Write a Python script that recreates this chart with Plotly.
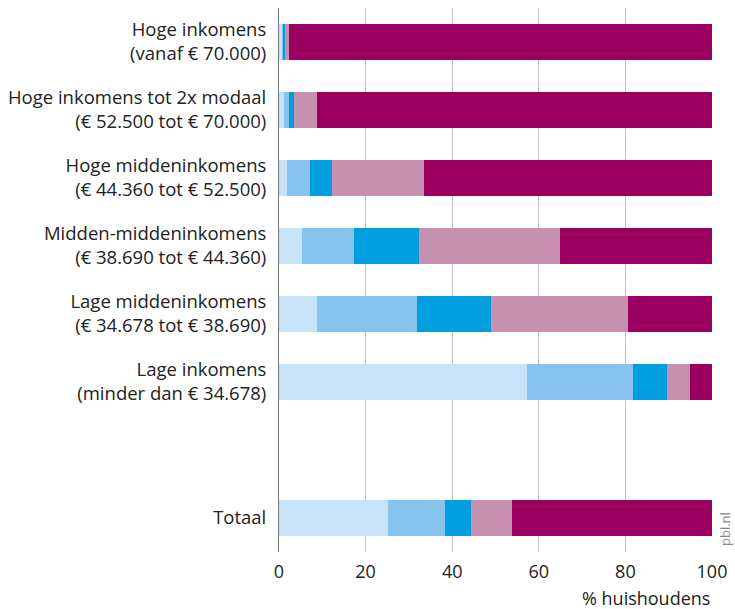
import plotly.graph_objects as go

categories = [
    "Hoge inkomens<br>(vanaf € 70.000)",
    "Hoge inkomens tot 2x modaal<br>(€ 52.500 tot € 70.000)",
    "Hoge middeninkomens<br>(€ 44.360 tot € 52.500)",
    "Midden-middeninkomens<br>(€ 38.690 tot € 44.360)",
    "Lage middeninkomens<br>(€ 34.678 tot € 38.690)",
    "Lage inkomens<br>(minder dan € 34.678)",
    " ",
    "Totaal",
]

series_names = ["Categorie 1", "Categorie 2", "Categorie 3", "Categorie 4", "Categorie 5"]

s1 = [0.9, 1.1, 1.8, 5.2, 8.7, 57.2, None, 25.2]
s2 = [0.25, 1.1, 5.3, 12.2, 23.2, 24.6, None, 13.1]
s3 = [0.15, 1.2, 5.1, 14.9, 17.0, 7.8, None, 6.0]
s4 = [0.9, 5.3, 21.2, 32.7, 31.7, 5.3, None, 9.4]
s5 = [97.8, 91.3, 66.6, 35.0, 19.4, 5.1, None, 46.3]

x_ticks = [0, 20, 40, 60, 80, 100]

colors = ["#c7e3f7", "#86c3ef", "#009ddf", "#c690ae", "#9b0060"]

fig = go.Figure()
for name, vals, col in zip(series_names, [s1, s2, s3, s4, s5], colors):
    fig.add_trace(go.Bar(
        y=categories, x=vals, name=name, orientation="h",
        marker=dict(color=col, line=dict(width=0)),
        hoverinfo="x+name",
    ))

fig.update_layout(
    barmode="stack",
    bargap=0.485,
    width=735, height=609,
    margin=dict(l=279, r=20, t=8, b=57),
    plot_bgcolor="white", paper_bgcolor="white",
    showlegend=False,
    font=dict(family="Open Sans", size=18.5, color="#222222"),
    xaxis=dict(
        range=[0, 100], tickvals=x_ticks, showgrid=True,
        gridcolor="#c4c4c4", gridwidth=1, zeroline=False,
        showline=False, ticks="", fixedrange=True,
        ticklabelstandoff=7,
        tickfont=dict(size=18, color="#222222"),
    ),
    yaxis=dict(
        categoryorder="array", categoryarray=categories,
        autorange="reversed", showgrid=False,
        showline=True, linecolor="#777777", linewidth=1,
        ticks="", ticklabelstandoff=8,
        tickfont=dict(size=18.5, color="#222222"),
    ),
    annotations=[
        dict(text="% huishoudens", xref="paper", yref="paper", x=1, y=0,
             xanchor="right", yanchor="top", yshift=-32, showarrow=False,
             font=dict(size=18, color="#222222")),
        dict(text="pbl.nl", xref="paper", yref="paper", x=1, y=0,
             xanchor="left", yanchor="bottom", xshift=2, yshift=4,
             textangle=-90, showarrow=False,
             font=dict(size=13, color="#888888")),
    ],
)

fig.write_html(
    "out.html",
    config={"displayModeBar": False},
    post_script="document.body.style.margin='0';document.body.style.overflow='hidden';",
)
